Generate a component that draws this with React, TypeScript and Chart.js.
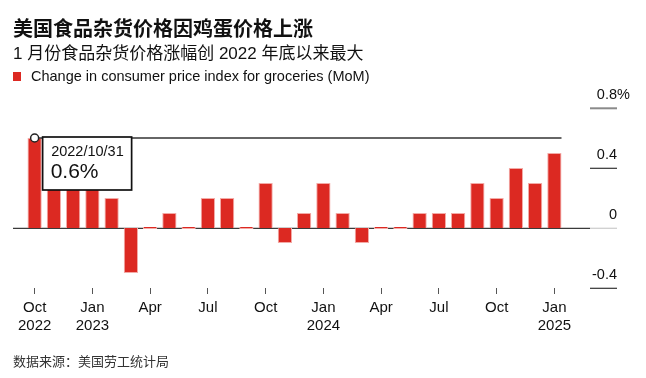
import React, { useEffect, useRef } from "react";
import { Chart, registerables } from "chart.js";

Chart.register(...registerables);

// ---- data ----
const months = [
  "2022-10", "2022-11", "2022-12", "2023-01", "2023-02", "2023-03", "2023-04",
  "2023-05", "2023-06", "2023-07", "2023-08", "2023-09", "2023-10", "2023-11",
  "2023-12", "2024-01", "2024-02", "2024-03", "2024-04", "2024-05", "2024-06",
  "2024-07", "2024-08", "2024-09", "2024-10", "2024-11", "2024-12", "2025-01",
];
const groceryCpiMoM = [
  0.6, 0.5, 0.4, 0.4, 0.2, -0.3, 0, 0.1, 0, 0.2, 0.2, 0, 0.3, -0.1,
  0.1, 0.3, 0.1, -0.1, 0, 0, 0.1, 0.1, 0.1, 0.3, 0.2, 0.4, 0.3, 0.5,
];
const monthNames = ["Jan", "Feb", "Mar", "Apr", "May", "Jun", "Jul", "Aug", "Sep", "Oct", "Nov", "Dec"];
const yearLabelMonths = ["2022-10", "2023-01", "2024-01", "2025-01"];
const yTicks = [-0.4, 0, 0.4, 0.8];
const yTickLabels = ["-0.4", "0", "0.4", "0.8"];
const yUnit = "%";
const highlightIndex = 0;
const highlightDate = "2022/10/31";

const title = "美国食品杂货价格因鸡蛋价格上涨";
const subtitle = "1 月份食品杂货价格涨幅创 2022 年底以来最大";
const legendLabel = "Change in consumer price index for groceries (MoM)";
const source = "数据来源：美国劳工统计局";

const RED = "#dc2922";
const LATIN = '"Liberation Sans", Arial, "Noto Sans CJK SC", sans-serif';

function xTickLabel(i: number): string[] | null {
  if (i % 3 !== 0) return null;
  const m = months[i];
  const [yr, mo] = m.split("-");
  const name = monthNames[parseInt(mo, 10) - 1];
  return yearLabelMonths.includes(m) ? [name, yr] : [name];
}

const overlayPlugin = {
  id: "overlay",
  beforeDatasetsDraw(chart: any) {
    const { ctx, chartArea } = chart;
    const ys = chart.scales.y;
    const y0 = Math.round(ys.getPixelForValue(0)) + 0.35;
    ctx.save();
    ctx.strokeStyle = "#3a3a3a";
    ctx.lineWidth = 1.3;
    ctx.beginPath();
    ctx.moveTo(13, y0);
    ctx.lineTo(chartArea.right + 26, y0);
    ctx.stroke();
    ctx.restore();
  },
  afterDatasetsDraw(chart: any) {
    const { ctx, chartArea } = chart;
    const ys = chart.scales.y;
    const lineL = chartArea.right + 26;
    const lineR = chartArea.right + 53;
    ctx.save();
    // right axis tick lines + labels
    yTicks.forEach((v, i) => {
      const py = Math.round(ys.getPixelForValue(v));
      if (v === 0) {
        ctx.strokeStyle = "#cfcfcf";
        ctx.lineWidth = 1.3;
      } else if (i === yTicks.length - 1) {
        ctx.strokeStyle = "#8a8a8a";
        ctx.lineWidth = 2;
      } else {
        ctx.strokeStyle = "#333";
        ctx.lineWidth = 1.2;
      }
      ctx.beginPath();
      ctx.moveTo(lineL, py + 0.3);
      ctx.lineTo(lineR, py + 0.3);
      ctx.stroke();
      ctx.fillStyle = "#111";
      ctx.font = `14.5px ${LATIN}`;
      ctx.textBaseline = "middle";
      ctx.textAlign = "right";
      ctx.fillText(yTickLabels[i], lineR, py - 13);
      if (i === yTicks.length - 1) {
        ctx.textAlign = "left";
        ctx.fillText(yUnit, lineR, py - 13);
      }
    });

    // highlight crosshair + tooltip
    const meta = chart.getDatasetMeta(0);
    const bar = meta.data[highlightIndex];
    const last = meta.data[meta.data.length - 1];
    const hx = bar.x;
    const hy = ys.getPixelForValue(groceryCpiMoM[highlightIndex]);
    ctx.strokeStyle = "#333";
    ctx.lineWidth = 1.3;
    ctx.beginPath();
    ctx.moveTo(hx, hy);
    ctx.lineTo(last.x + last.width / 2, hy);
    ctx.stroke();

    ctx.beginPath();
    ctx.arc(hx, hy, 4, 0, Math.PI * 2);
    ctx.fillStyle = "#fff";
    ctx.fill();
    ctx.lineWidth = 1.5;
    ctx.strokeStyle = "#222";
    ctx.stroke();

    const bx = hx + 8;
    const by = hy - 1;
    const bw = 89;
    const bh = 53;
    ctx.fillStyle = "#fff";
    ctx.fillRect(bx, by, bw, bh);
    ctx.lineWidth = 1.7;
    ctx.strokeStyle = "#111";
    ctx.strokeRect(bx, by, bw, bh);
    ctx.fillStyle = "#111";
    ctx.textAlign = "left";
    ctx.textBaseline = "middle";
    ctx.font = `14.5px ${LATIN}`;
    ctx.fillText(highlightDate, bx + 8.5, by + 14.5);
    ctx.font = `21px ${LATIN}`;
    ctx.fillText(`${groceryCpiMoM[highlightIndex]}${yUnit}`, bx + 8, by + 35);
    ctx.restore();
  },
};

export default function App() {
  const canvasRef = useRef<HTMLCanvasElement | null>(null);

  useEffect(() => {
    if (!canvasRef.current) return;
    const chart = new Chart(canvasRef.current, {
      type: "bar",
      data: {
        labels: months,
        datasets: [
          {
            data: groceryCpiMoM,
            backgroundColor: RED,
            borderColor: "#f3aaa6",
            borderWidth: 1,
            barPercentage: 0.74,
            categoryPercentage: 1,
            minBarLength: 2,
          },
        ],
      },
      options: {
        responsive: false,
        animation: false,
        devicePixelRatio: 1,
        layout: { padding: { left: 25, right: 82, top: 108, bottom: 0 } },
        plugins: {
          legend: { display: false },
          title: { display: false },
          tooltip: { enabled: false },
        },
        events: [],
        scales: {
          x: {
            type: "category",
            offset: true,
            border: { display: false },
            grid: {
              offset: false,
              drawOnChartArea: false,
              drawTicks: true,
              tickLength: 6,
              color: "#555",
              lineWidth: 1,
            },
            ticks: {
              autoSkip: false,
              maxRotation: 0,
              padding: 5,
              color: "#111",
              font: { family: LATIN, size: 15 },
              callback: (_v: any, i: number) => xTickLabel(i),
            },
            afterFit: (s: any) => {
              s.height = 90;
            },
          },
          y: {
            display: false,
            min: -0.4,
            max: 0.8,
            ticks: { stepSize: 0.4 },
          },
        },
      },
      plugins: [overlayPlugin],
    });
    return () => chart.destroy();
  }, []);

  const txt: React.CSSProperties = { position: "absolute", whiteSpace: "nowrap", margin: 0 };

  return (
    <div style={{ position: "absolute", left: 0, top: 0, width: 646, height: 378, background: "#fff", overflow: "hidden" }}>
      <canvas ref={canvasRef} width={646} height={378} style={{ position: "absolute", left: 0, top: 0, display: "block" }} />
      <div style={{ ...txt, left: 13, top: 17, fontSize: 20, lineHeight: "22px", fontWeight: 700, color: "#111", fontFamily: '"Noto Sans CJK SC", sans-serif' }}>
        {title}
      </div>
      <div style={{ ...txt, left: 13, top: 44, fontSize: 17, lineHeight: "20px", color: "#111", fontFamily: LATIN }}>
        {subtitle}
      </div>
      <div style={{ ...txt, left: 13, top: 72, width: 8, height: 9, background: RED }} />
      <div style={{ ...txt, left: 31, top: 67, fontSize: 14.5, lineHeight: "18px", color: "#111", fontFamily: LATIN }}>
        {legendLabel}
      </div>
      <div style={{ ...txt, left: 13, top: 354, fontSize: 13, lineHeight: "16px", color: "#333", fontFamily: LATIN }}>
        {source}
      </div>
    </div>
  );
}
